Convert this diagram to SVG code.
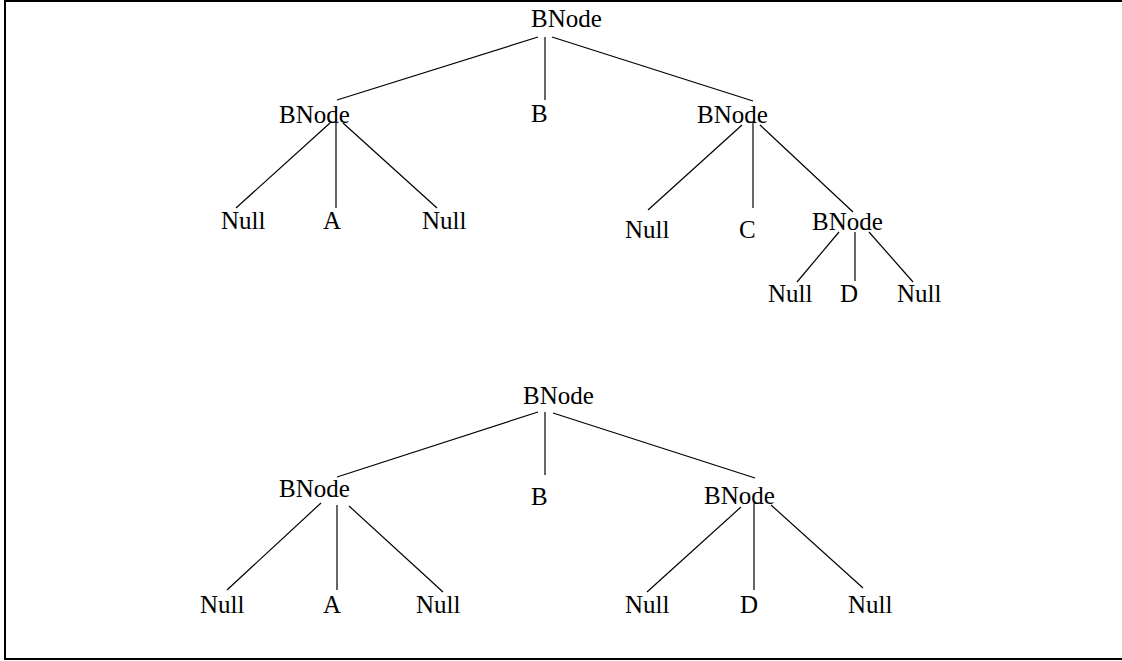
<svg xmlns="http://www.w3.org/2000/svg" width="1122" height="661" viewBox="0 0 1122 661">
  <style>
    text { font-family: "Liberation Serif", "Times New Roman", serif; font-size: 25px; fill: #000; }
    .edge { stroke: #000; stroke-width: 1.2; fill: none; }
    .frame { stroke: #000; stroke-width: 2; fill: #fff; }
  </style>
  <!-- page frame; its right side runs past the edge of the canvas -->
  <rect class="frame" x="5" y="1" width="1130" height="658"/>

  <!-- edges -->
  <g id="connectors">
    <!-- upper tree -->
    <line class="edge" x1="538" y1="37" x2="337" y2="100"/>
    <line class="edge" x1="545" y1="37" x2="545" y2="100"/>
    <line class="edge" x1="552" y1="37" x2="753" y2="101"/>
    <line class="edge" x1="330" y1="123" x2="236" y2="208"/>
    <line class="edge" x1="336" y1="122" x2="336" y2="208"/>
    <line class="edge" x1="343" y1="123" x2="437" y2="208"/>
    <line class="edge" x1="742" y1="125" x2="648" y2="210"/>
    <line class="edge" x1="753" y1="122" x2="753" y2="208"/>
    <line class="edge" x1="760" y1="125" x2="853" y2="212"/>
    <line class="edge" x1="839" y1="232" x2="797" y2="282"/>
    <line class="edge" x1="855" y1="232" x2="855" y2="281"/>
    <line class="edge" x1="869" y1="232" x2="913" y2="282"/>
    <!-- lower tree -->
    <line class="edge" x1="538" y1="412" x2="337" y2="477"/>
    <line class="edge" x1="545" y1="412" x2="545" y2="475"/>
    <line class="edge" x1="553" y1="413" x2="755" y2="478"/>
    <line class="edge" x1="321" y1="503" x2="227" y2="590"/>
    <line class="edge" x1="337" y1="505" x2="337" y2="590"/>
    <line class="edge" x1="349" y1="506" x2="443" y2="592"/>
    <line class="edge" x1="741" y1="507" x2="647" y2="592"/>
    <line class="edge" x1="754" y1="503" x2="754" y2="590"/>
    <line class="edge" x1="771" y1="505" x2="863" y2="588"/>
  </g>

  <!-- upper tree nodes -->
  <g id="t1-root"><text x="531" y="27">BNode</text></g>
  <g id="t1-left"><text x="279" y="123">BNode</text></g>
  <g id="t1-b"><text x="531" y="122">B</text></g>
  <g id="t1-right"><text x="697" y="123">BNode</text></g>
  <g id="t1-left-null1"><text x="221" y="229">Null</text></g>
  <g id="t1-left-a"><text x="323" y="229">A</text></g>
  <g id="t1-left-null2"><text x="422" y="229">Null</text></g>
  <g id="t1-right-null"><text x="625" y="238">Null</text></g>
  <g id="t1-right-c"><text x="739" y="238">C</text></g>
  <g id="t1-right-child"><text x="812" y="230">BNode</text></g>
  <g id="t1-child-null1"><text x="768" y="302">Null</text></g>
  <g id="t1-child-d"><text x="840" y="302">D</text></g>
  <g id="t1-child-null2"><text x="897" y="302">Null</text></g>

  <!-- lower tree nodes -->
  <g id="t2-root"><text x="523" y="404">BNode</text></g>
  <g id="t2-left"><text x="279" y="497">BNode</text></g>
  <g id="t2-b"><text x="531" y="505">B</text></g>
  <g id="t2-right"><text x="704" y="504">BNode</text></g>
  <g id="t2-left-null1"><text x="200" y="613">Null</text></g>
  <g id="t2-left-a"><text x="323" y="613">A</text></g>
  <g id="t2-left-null2"><text x="416" y="613">Null</text></g>
  <g id="t2-right-null1"><text x="625" y="613">Null</text></g>
  <g id="t2-right-d"><text x="740" y="613">D</text></g>
  <g id="t2-right-null2"><text x="848" y="613">Null</text></g>
</svg>
